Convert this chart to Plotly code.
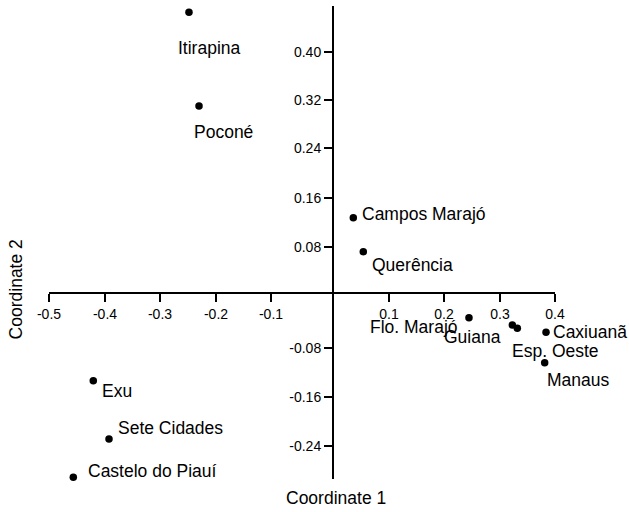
import plotly.graph_objects as go

# ---- data ----
sites = ["Itirapina", "Poconé", "Campos Marajó", "Querência", "Flo. Marajó",
         "Guiana", "Esp. Oeste", "Caxiuanã", "Manaus", "Exu", "Sete Cidades",
         "Castelo do Piauí"]
coord1 = [-0.2595, -0.2414, 0.0366, 0.0546, 0.2450, 0.3231, 0.3321, 0.3838,
          0.3814, -0.4319, -0.4036, -0.4679]
coord2 = [0.4609, 0.3071, 0.1236, 0.0678, -0.0406, -0.0525, -0.0580, -0.0645,
          -0.1144, -0.1440, -0.2397, -0.3026]

x_tick_labels = ["-0.5", "-0.4", "-0.3", "-0.2", "-0.1", "0.1", "0.2", "0.3", "0.4"]
x_tick_vals = [-0.5117, -0.4108, -0.3117, -0.2108, -0.1117, 0.1009, 0.2, 0.3009, 0.4]
y_tick_labels = ["0.40", "0.32", "0.24", "0.16", "0.08", "-0.08", "-0.16", "-0.24"]
y_tick_vals = [0.3962, 0.3169, 0.2376, 0.1565, 0.0760, -0.0908, -0.1703, -0.2512]

# label placement (pixel offsets from point, anchor)
label_pos = {
    "Itirapina": (-13, -36, "left"),
    "Poconé": (-7, -26, "left"),
    "Campos Marajó": (7, 4, "left"),
    "Querência": (7, -13, "left"),
    "Flo. Marajó": (-9, -9, "right"),
    "Guiana": (-9, -12, "right"),
    "Esp. Oeste": (-7, -23, "left"),
    "Caxiuanã": (5, 0, "left"),
    "Manaus": (0, -17, "left"),
    "Exu": (7, -10, "left"),
    "Sete Cidades": (7, 11, "left"),
    "Castelo do Piauí": (13, 6, "left"),
}

FONT = "Liberation Sans, Arial, sans-serif"
LABEL_SIZE = 17.5

fig = go.Figure()
fig.add_trace(go.Scatter(
    x=coord1, y=coord2, mode="markers",
    marker=dict(size=7.5, color="black"),
    cliponaxis=False, hoverinfo="text", text=sites,
))

annotations = []
for name, xv, yv in zip(sites, coord1, coord2):
    dx, dy, anc = label_pos[name]
    annotations.append(dict(
        x=xv, y=yv, xref="x", yref="y", text=name, showarrow=False,
        xanchor=anc, yanchor="middle", xshift=dx, yshift=dy,
        font=dict(family=FONT, size=LABEL_SIZE, color="black"),
    ))

annotations.append(dict(
    x=0.567, y=-0.04, xref="paper", yref="paper", text="Coordinate 1",
    showarrow=False, xanchor="center", yanchor="middle",
    font=dict(family=FONT, size=LABEL_SIZE, color="black"),
))
annotations.append(dict(
    x=-0.066, y=0.40, xref="paper", yref="paper", text="Coordinate 2",
    showarrow=False, xanchor="center", yanchor="middle", textangle=-90,
    font=dict(family=FONT, size=LABEL_SIZE, color="black"),
))

fig.update_layout(
    width=629, height=512,
    margin=dict(l=49, r=74, t=6, b=33),
    paper_bgcolor="white", plot_bgcolor="white",
    showlegend=False,
    annotations=annotations,
    font=dict(family=FONT, color="black"),
)

fig.update_xaxes(
    range=[-0.5117, 0.4], showgrid=False, zeroline=False,
    showline=True, linecolor="black", linewidth=2,
    anchor="free", position=(479 - 293) / 473, side="bottom",
    ticks="outside", ticklen=8, tickwidth=2, tickcolor="black",
    tickvals=x_tick_vals, ticktext=x_tick_labels,
    tickfont=dict(family=FONT, size=14, color="black"),
)
fig.update_yaxes(
    range=[-0.3054, 0.4713], showgrid=False, zeroline=False,
    showline=True, linecolor="black", linewidth=2,
    anchor="free", position=(333 - 49) / 506, side="left",
    ticks="outside", ticklen=8, tickwidth=2, tickcolor="black",
    tickvals=y_tick_vals, ticktext=y_tick_labels,
    tickfont=dict(family=FONT, size=14, color="black"),
)

fig.write_html("out.html")
